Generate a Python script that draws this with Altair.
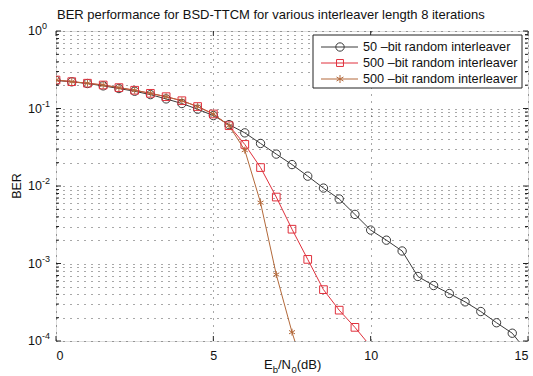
import altair as alt
import pandas as pd

# ---------------- data ----------------
ebno_50 = [0, 0.5, 1, 1.5, 2, 2.5, 3, 3.5, 4, 4.5, 5, 5.5, 6, 6.5, 7, 7.5, 8, 8.5,
           9, 9.5, 10, 10.5, 11, 11.5, 12, 12.5, 13, 13.5, 14, 14.5, 15]
ber_50 = [0.230, 0.221, 0.210, 0.196, 0.181, 0.167, 0.151, 0.133, 0.116, 0.098,
          0.081, 0.062, 0.0485, 0.0354, 0.0258, 0.0189, 0.0134, 0.0094, 0.0068,
          0.0043, 0.0027, 0.0020, 0.00145, 0.00068, 0.00052, 0.00041, 0.00032,
          0.00024, 0.000172, 0.000126, 0.00007]

ebno_500a = [0, 0.5, 1, 1.5, 2, 2.5, 3, 3.5, 4, 4.5, 5, 5.5, 6, 6.5, 7, 7.5, 8,
             8.5, 9, 9.5, 10]
ber_500a = [0.233, 0.222, 0.212, 0.201, 0.186, 0.172, 0.157, 0.142, 0.126, 0.106,
            0.085, 0.060, 0.0344, 0.0173, 0.0072, 0.00277, 0.00113, 0.00046,
            0.00025, 0.00015, 0.000085]

ebno_500b = [0, 0.5, 1, 1.5, 2, 2.5, 3, 3.5, 4, 4.5, 5, 5.5, 6, 6.5, 7, 7.5, 8]
ber_500b = [0.233, 0.222, 0.212, 0.201, 0.186, 0.172, 0.157, 0.142, 0.126, 0.106,
            0.085, 0.060, 0.029, 0.0061, 0.00072, 0.00013, 0.00003]

series_ids = ["s50", "s500a", "s500b"]
legend_labels = ["50 \u2013bit random interleaver",
                 "500 \u2013bit random interleaver",
                 "500 \u2013bit random interleaver"]
colors = ["#3a3a3a", "#e0303c", "#b3693a"]
ASTERISK = "M0,-1L0,1M-0.866,-0.5L0.866,0.5M-0.866,0.5L0.866,-0.5"
shapes = ["circle", "square", ASTERISK]
sizes = [70, 48, 64]

x_ticks = [0, 5, 10, 15]
y_decades = [1, 0.1, 0.01, 0.001, 0.0001]
y_exponents = ["0", "-1", "-2", "-3", "-4"]
y_minor = [m * d for d in [0.0001, 0.001, 0.01, 0.1] for m in range(2, 10)]

title_text = "BER performance for BSD-TTCM for various interleaver length 8 iterations"

# ---------------- build ----------------
W, H = 472, 310
FONT = "Liberation Sans"

rows = []
for sid, xs, ys in [("s50", ebno_50, ber_50), ("s500a", ebno_500a, ber_500a),
                    ("s500b", ebno_500b, ber_500b)]:
    for a, b in zip(xs, ys):
        rows.append({"series": sid, "ebno": a, "ber": b})
df = pd.DataFrame(rows)

xscale = alt.Scale(domain=[0, 15], nice=False, zero=False)
yscale = alt.Scale(type="log", domain=[1e-4, 1], nice=False)
color_scale = alt.Scale(domain=series_ids, range=colors)
shape_scale = alt.Scale(domain=series_ids, range=shapes)
size_scale = alt.Scale(domain=series_ids, range=sizes)

grid_style = dict(grid=True, gridColor="#333333", gridDash=[1, 6], gridWidth=1,
                  gridOpacity=0.85, domain=False, ticks=False)

base = alt.Chart(df)

lines = base.mark_line(strokeWidth=1, clip=True).encode(
    x=alt.X("ebno:Q", scale=xscale,
            axis=alt.Axis(values=x_ticks, title=None, labelFontSize=12.5,
                          labelFont=FONT, labelColor="#111", labelPadding=8,
                          **grid_style)),
    y=alt.Y("ber:Q", scale=yscale,
            axis=alt.Axis(values=y_decades + y_minor, labels=False, title=None,
                          **grid_style)),
    color=alt.Color("series:N", scale=color_scale, legend=None),
    detail="series:N",
)

points = base.mark_point(filled=False, strokeWidth=1, clip=True, opacity=1).encode(
    x=alt.X("ebno:Q", scale=xscale),
    y=alt.Y("ber:Q", scale=yscale),
    color=alt.Color("series:N", scale=color_scale, legend=None),
    shape=alt.Shape("series:N", scale=shape_scale, legend=None),
    size=alt.Size("series:N", scale=size_scale, legend=None),
)

# inward ticks
ymaj = pd.DataFrame({"v": y_decades})
ymin = pd.DataFrame({"v": y_minor})
xmaj = pd.DataFrame({"v": x_ticks})
tick_layers = []
for d, L in [(ymaj, 5), (ymin, 3)]:
    tick_layers.append(alt.Chart(d).mark_rule(color="#222", strokeWidth=1).encode(
        y=alt.Y("v:Q", scale=yscale), x=alt.value(0), x2=alt.value(L)))
    tick_layers.append(alt.Chart(d).mark_rule(color="#222", strokeWidth=1).encode(
        y=alt.Y("v:Q", scale=yscale), x=alt.value(W - L), x2=alt.value(W)))
tick_layers.append(alt.Chart(xmaj).mark_rule(color="#222", strokeWidth=1).encode(
    x=alt.X("v:Q", scale=xscale), y=alt.value(H - 5), y2=alt.value(H)))
tick_layers.append(alt.Chart(xmaj).mark_rule(color="#222", strokeWidth=1).encode(
    x=alt.X("v:Q", scale=xscale), y=alt.value(0), y2=alt.value(5)))

# y tick labels "10^k"
ylab = pd.DataFrame({"v": y_decades, "e": y_exponents})
ylab_base = alt.Chart(ylab).mark_text(align="right", baseline="middle", fontSize=12.5,
                                      font=FONT, color="#111").encode(
    y=alt.Y("v:Q", scale=yscale), x=alt.value(-14), text=alt.value("10"))
ylab_exp = alt.Chart(ylab).mark_text(align="left", baseline="middle", fontSize=9,
                                     font=FONT, color="#111", dy=-5).encode(
    y=alt.Y("v:Q", scale=yscale), x=alt.value(-14), text="e:N")

# texts: chart title and axis titles
one = pd.DataFrame({"a": [0]})
title_mark = alt.Chart(one).mark_text(align="left", baseline="alphabetic",
                                      fontSize=13, font=FONT, color="#111").encode(
    x=alt.value(1), y=alt.value(-12), text=alt.value(title_text))

ytitle = alt.Chart(one).mark_text(angle=270, align="center", baseline="middle",
                                  fontSize=12.5, font=FONT, color="#111").encode(
    x=alt.value(-39), y=alt.value(H / 2), text=alt.value("BER"))

xt_parts = [("E", 208, 13, 0), ("b", 216.7, 9.5, 4), ("/N", 222, 13, 0),
            ("0", 235.4, 9.5, 4), ("(dB)", 240.7, 13, 0)]
xtitle_layers = []
for txt, px, fs, dy in xt_parts:
    xtitle_layers.append(alt.Chart(one).mark_text(
        align="left", baseline="alphabetic", fontSize=fs, font=FONT,
        color="#111", dy=dy).encode(
        x=alt.value(px), y=alt.value(H + 28), text=alt.value(txt)))

# legend (manual, MATLAB style)
legend_layers = [alt.Chart(one).mark_rect(fill="white", stroke="#222",
                                          strokeWidth=1).encode(
    x=alt.value(257), x2=alt.value(466), y=alt.value(4), y2=alt.value(57))]
for i, (sid, lab, col, shp, sz) in enumerate(zip(series_ids, legend_labels,
                                                  colors, shapes, sizes)):
    yy = 16 + 16 * i
    legend_layers.append(alt.Chart(one).mark_rule(color=col, strokeWidth=1).encode(
        x=alt.value(265), x2=alt.value(302), y=alt.value(yy)))
    legend_layers.append(alt.Chart(one).mark_point(
        filled=False, color=col, shape=shp, size=sz, strokeWidth=1, opacity=1).encode(
        x=alt.value(284), y=alt.value(yy)))
    legend_layers.append(alt.Chart(one).mark_text(
        align="left", baseline="middle", fontSize=12.7, font=FONT, color="#111").encode(
        x=alt.value(307), y=alt.value(yy), text=alt.value(lab)))

chart = alt.layer(
    lines, points, *tick_layers, ylab_base, ylab_exp, title_mark, ytitle,
    *xtitle_layers, *legend_layers
).properties(
    width=W, height=H,
    autosize=alt.AutoSizeParams(type="none"),
    padding={"left": 56, "top": 31, "right": 5, "bottom": 35},
).configure_view(
    stroke="#222", strokeWidth=1
).configure(background="white")

chart.save("out.html", embed_options={"renderer": "svg", "actions": False})
